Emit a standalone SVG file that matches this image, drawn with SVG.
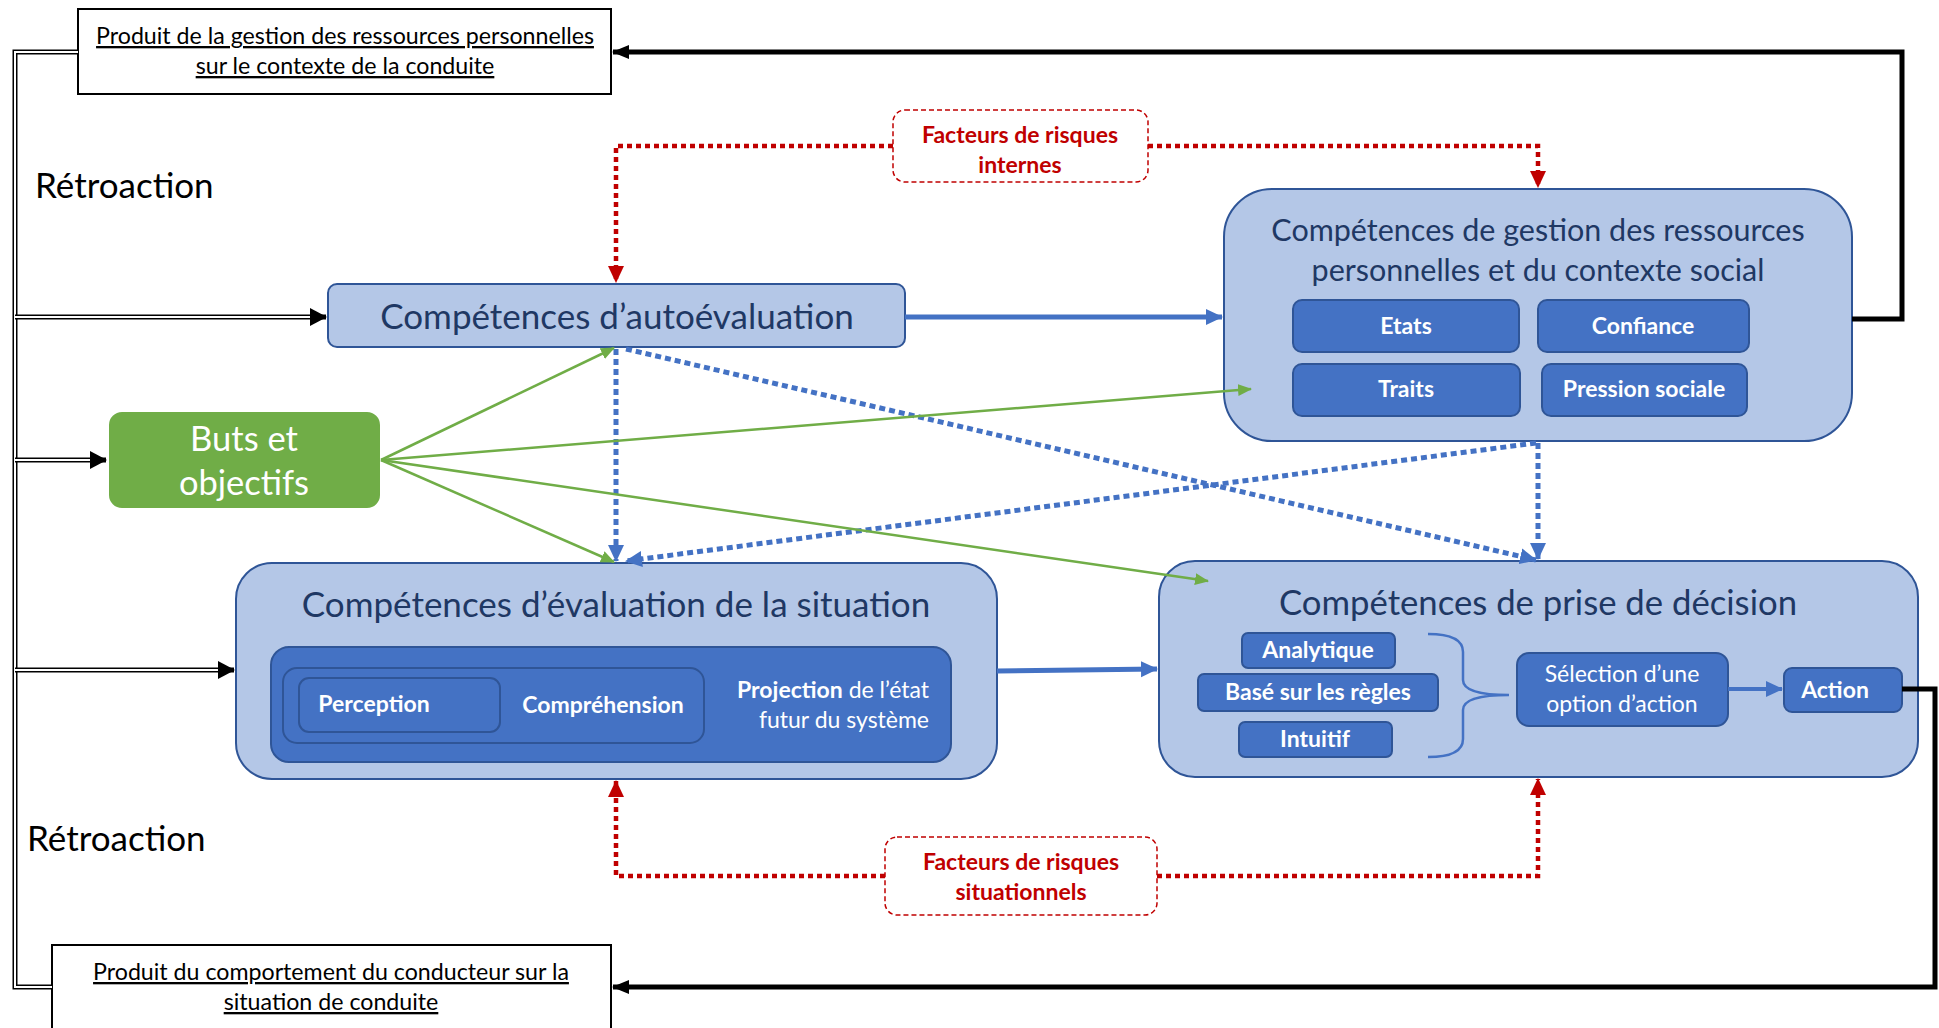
<svg xmlns="http://www.w3.org/2000/svg" width="1939" height="1028" viewBox="0 0 1939 1028">
<style>
text{font-family:Lato,"Liberation Sans",sans-serif}
.lb{fill:#B4C7E7;stroke:#2F5597;stroke-width:2}
.db{fill:#4472C4;stroke:#2F5597;stroke-width:2}
.title{fill:#1F3864;text-anchor:middle}
.w{fill:#FFFFFF;text-anchor:middle;font-weight:bold;font-size:23px}
.wn{fill:#FFFFFF;text-anchor:middle;font-size:23px}
.red{fill:#C00000;font-weight:bold;font-size:23px;text-anchor:middle}
.blk{fill:#000;font-size:23.2px;text-anchor:middle;text-decoration:underline}
.fb{fill:#FFFFFF;stroke:#C00000;stroke-width:1.5;stroke-dasharray:5 3}
.rd{fill:none;stroke:#C00000;stroke-width:4.5;stroke-dasharray:5 4}
.bd{fill:none;stroke:#4472C4;stroke-width:5;stroke-dasharray:6 4}
.bs{fill:none;stroke:#4472C4;stroke-width:5}
.gr{fill:none;stroke:#70AD47;stroke-width:2.5}
.k{fill:none;stroke:#000;stroke-width:5}
.dbo{fill:none;stroke:#000;stroke-width:5}
.dbi{fill:none;stroke:#FFF;stroke-width:2}
</style>
<defs>
<marker id="ak" markerUnits="userSpaceOnUse" markerWidth="18" markerHeight="18" refX="16" refY="9" orient="auto"><path d="M0,2 L17,9 L0,16 Z" fill="#000"/></marker>
<marker id="ak2" markerUnits="userSpaceOnUse" markerWidth="18" markerHeight="20" refX="16" refY="10" orient="auto"><path d="M0,1 L17,10 L0,19 Z" fill="#000"/></marker>
<marker id="ar" markerUnits="userSpaceOnUse" markerWidth="18" markerHeight="18" refX="16" refY="9" orient="auto"><path d="M0,1 L17,9 L0,17 Z" fill="#C00000"/></marker>
<marker id="ab" markerUnits="userSpaceOnUse" markerWidth="18" markerHeight="18" refX="16" refY="9" orient="auto"><path d="M0,1 L17,9 L0,17 Z" fill="#4472C4"/></marker>
<marker id="ag" markerUnits="userSpaceOnUse" markerWidth="14" markerHeight="14" refX="13" refY="7" orient="auto"><path d="M0,1 L14,7 L0,13 Z" fill="#70AD47"/></marker>
</defs>

<g id="produit-gestion">
  <rect x="78" y="9" width="533" height="85" fill="#FFF" stroke="#000" stroke-width="2"/>
  <text class="blk" x="345" y="44">Produit de la gestion des ressources personnelles</text>
  <text class="blk" x="345" y="74">sur le contexte de la conduite</text>
</g>

<g id="produit-comportement">
  <rect x="52" y="945" width="559" height="90" fill="#FFF" stroke="#000" stroke-width="2"/>
  <text class="blk" x="331" y="980">Produit du comportement du conducteur sur la</text>
  <text class="blk" x="331" y="1010">situation de conduite</text>
</g>

<g id="retroaction-1"><text x="35" y="198" font-size="35" fill="#000">Rétroaction</text></g>
<g id="retroaction-2"><text x="27" y="851" font-size="35" fill="#000">Rétroaction</text></g>

<g id="facteurs-internes">
  <rect class="fb" x="893" y="110" width="255" height="72" rx="12"/>
  <text class="red" x="1020" y="143">Facteurs de risques</text>
  <text class="red" x="1020" y="173">internes</text>
</g>

<g id="facteurs-situationnels">
  <rect class="fb" x="885" y="837" width="272" height="78" rx="12"/>
  <text class="red" x="1021" y="870">Facteurs de risques</text>
  <text class="red" x="1021" y="900">situationnels</text>
</g>

<g id="autoevaluation">
  <rect class="lb" x="328" y="284" width="577" height="63" rx="9"/>
  <text class="title" x="617" y="329" font-size="35">Compétences d’autoévaluation</text>
</g>

<g id="buts">
  <rect x="108" y="411" width="273" height="98" rx="14" fill="#70AD47" stroke="#FFF" stroke-width="2"/>
  <text x="244" y="451" font-size="34.5" fill="#FFF" text-anchor="middle">Buts et</text>
  <text x="244" y="495" font-size="34.5" fill="#FFF" text-anchor="middle">objectifs</text>
</g>

<g id="gestion">
  <rect class="lb" x="1224" y="189" width="628" height="252" rx="48"/>
  <text class="title" x="1538" y="241" font-size="30.5">Compétences de gestion des ressources</text>
  <text class="title" x="1538" y="281" font-size="30.5">personnelles et du contexte social</text>
  <g id="etats"><rect class="db" x="1293" y="300" width="226" height="52" rx="9"/><text class="w" x="1406" y="334">Etats</text></g>
  <g id="confiance"><rect class="db" x="1538" y="300" width="211" height="52" rx="9"/><text class="w" x="1643" y="334">Confiance</text></g>
  <g id="traits"><rect class="db" x="1293" y="364" width="227" height="52" rx="9"/><text class="w" x="1406" y="397">Traits</text></g>
  <g id="pression"><rect class="db" x="1542" y="364" width="205" height="52" rx="9"/><text class="w" x="1644" y="397">Pression sociale</text></g>
</g>

<g id="evaluation-situation">
  <rect class="lb" x="236" y="563" width="761" height="216" rx="36"/>
  <text class="title" x="616" y="617" font-size="35">Compétences d’évaluation de la situation</text>
  <rect class="db" x="271" y="647" width="680" height="115" rx="18"/>
  <rect class="db" x="283" y="668" width="421" height="75" rx="14"/>
  <rect class="db" x="299" y="678" width="201" height="54" rx="10"/>
  <text class="w" x="374" y="712" font-size="22">Perception</text>
  <text class="w" x="603" y="713" font-size="22">Compréhension</text>
  <text x="929" y="698" font-size="23" fill="#FFF" text-anchor="end"><tspan font-weight="bold">Projection</tspan> de l’état</text>
  <text x="929" y="728" font-size="23" fill="#FFF" text-anchor="end">futur du système</text>
</g>

<g id="prise-decision">
  <rect class="lb" x="1159" y="561" width="759" height="216" rx="36"/>
  <text class="title" x="1538" y="615" font-size="34.7">Compétences de prise de décision</text>
  <g id="analytique"><rect class="db" x="1242" y="633" width="153" height="35" rx="6"/><text class="w" x="1318" y="658" font-size="22">Analytique</text></g>
  <g id="regles"><rect class="db" x="1198" y="674" width="240" height="37" rx="6"/><text class="w" x="1318" y="700" font-size="22.5">Basé sur les règles</text></g>
  <g id="intuitif"><rect class="db" x="1239" y="722" width="153" height="35" rx="6"/><text class="w" x="1315" y="747" font-size="22">Intuitif</text></g>
  <path d="M1428,634 Q1463,634 1463,652 L1463,680 Q1463,695 1509,695 Q1463,695 1463,710 L1463,739 Q1463,757 1428,757" fill="none" stroke="#4472C4" stroke-width="2.5"/>
  <g id="selection"><rect class="db" x="1517" y="653" width="211" height="73" rx="12"/>
  <text class="wn" x="1622" y="682">Sélection d’une</text><text class="wn" x="1622" y="712">option d’action</text></g>
  <g id="action"><rect class="db" x="1784" y="668" width="118" height="44" rx="8"/><text class="w" x="1835" y="698">Action</text></g>
</g>

<g id="connectors">
  <!-- feedback double lines -->
  <path class="dbo" d="M78,52 H15 V987 H52"/>
  <path class="dbi" d="M78,52 H15 V987 H52"/>
  <path class="dbo" d="M15,317 H326" marker-end="url(#ak2)"/>
  <path class="dbi" d="M15,317 H310"/>
  <path class="dbo" d="M15,460 H106" marker-end="url(#ak2)"/>
  <path class="dbi" d="M15,460 H90"/>
  <path class="dbo" d="M15,670 H234" marker-end="url(#ak2)"/>
  <path class="dbi" d="M15,670 H218"/>
  <!-- black output lines -->
  <path class="k" d="M1852,319 H1902 V52 H613" marker-end="url(#ak)"/>
  <path class="k" d="M1902,689 H1935 V987 H613" marker-end="url(#ak)"/>
  <!-- red dotted -->
  <path class="rd" d="M893,146 H616 V282" marker-end="url(#ar)"/>
  <path class="rd" d="M1148,146 H1538 V187" marker-end="url(#ar)"/>
  <path class="rd" d="M885,876 H616 V781" marker-end="url(#ar)"/>
  <path class="rd" d="M1157,876 H1538 V779" marker-end="url(#ar)"/>
  <!-- blue solid -->
  <path class="bs" d="M905,317 H1222" marker-end="url(#ab)"/>
  <path class="bs" d="M997,671 L1157,669" marker-end="url(#ab)"/>
  <path d="M1728,689 H1782" stroke="#4472C4" stroke-width="4" marker-end="url(#ab)"/>
  <!-- blue dotted -->
  <path class="bd" d="M616,349 V561" marker-end="url(#ab)"/>
  <path class="bd" d="M626,349 L1536,560" marker-end="url(#ab)"/>
  <path class="bd" d="M1538,443 V559" marker-end="url(#ab)"/>
  <path class="bd" d="M1536,443 L626,561" marker-end="url(#ab)"/>
  <!-- green -->
  <path class="gr" d="M381,460 L614,348" marker-end="url(#ag)"/>
  <path class="gr" d="M381,460 L1251,389" marker-end="url(#ag)"/>
  <path class="gr" d="M381,460 L614,562" marker-end="url(#ag)"/>
  <path class="gr" d="M381,460 L1208,581" marker-end="url(#ag)"/>
</g>
</svg>
